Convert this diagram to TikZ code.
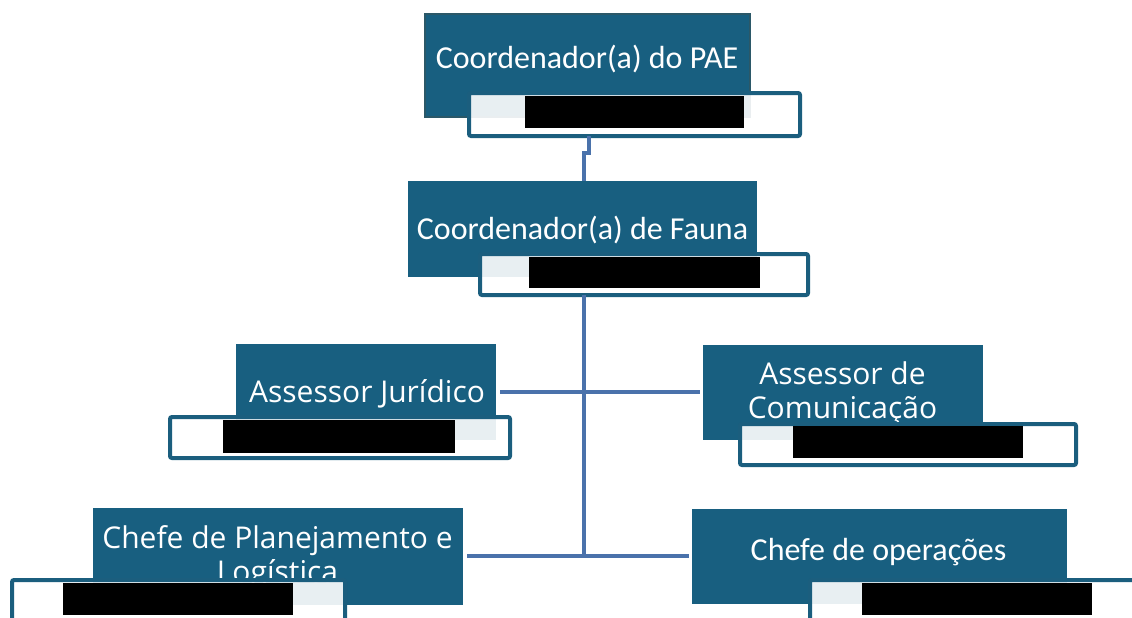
\documentclass[tikz,border=0pt]{standalone}
\usepackage{fontspec}
\setmainfont{Carlito}
\newfontfamily\aptos{Open Sans}
\definecolor{boxfill}{HTML}{185F80}
\definecolor{boxedge}{HTML}{2B5868}
\definecolor{tagline}{HTML}{1B5E7E}
\definecolor{connc}{HTML}{4A72AB}
\begin{document}
\begin{tikzpicture}[x=1pt,y=-1pt,
  darkbox/.style={rectangle, fill=boxfill, inner sep=0pt, outer sep=0pt},
  tagbox/.style={rectangle, draw=tagline, line width=4pt, fill=white, fill opacity=0.9, draw opacity=1, rounded corners=2pt, inner sep=0pt, outer sep=0pt},
  redact/.style={rectangle, fill=black, inner sep=0pt, outer sep=0pt},
  conn/.style={draw=connc, line width=4pt},
  lblC/.style={text=white, font=\fontsize{32}{34}\selectfont, inner sep=0pt, anchor=base},
  lblA/.style={text=white, font=\aptos\fontsize{30}{34}\selectfont, inner sep=0pt, anchor=base, align=center}]
\useasboundingbox (0,0) rectangle (1132,618);
\clip (0,0) rectangle (1132,618);

\coordinate (j1) at (589,153);
\coordinate (j2) at (584,153);
\coordinate (hubA) at (584,392);
\coordinate (hubB) at (584,556);

% boxes
\node[darkbox, draw=boxedge, line width=1.2pt, minimum width=325pt, minimum height=103pt] (pae) at (587.5,65.5) {};
\node[darkbox, minimum width=349pt, minimum height=96pt] (fauna) at (582.5,229) {};
\node[darkbox, minimum width=260pt, minimum height=96pt] (jur) at (366,392) {};
\node[darkbox, minimum width=280pt, minimum height=95pt] (com) at (843,392.5) {};
\node[darkbox, minimum width=370pt, minimum height=97pt] (plan) at (278,556.5) {};
\node[darkbox, minimum width=375pt, minimum height=95pt] (ops) at (879.5,556.5) {};

% texts
\node[lblC] (paeText) at (587,68) {Coordenador(a) do PAE};
\node[lblC] (faunaText) at (582.5,239) {Coordenador(a) de Fauna};
\node[lblA] (jurText) at (367,402) {Assessor Jurídico};
\node[lblA] (comText) at (842.5,418) {Assessor de\\Comunicação};
\node[lblA] (planText) at (277.5,582) {Chefe de Planejamento e\\Logística};
\node[lblC] (opsText) at (878.5,560) {Chefe de operações};

% name tags
\node[tagbox, minimum width=331pt, minimum height=43pt] (paeTag) at (634.5,114.5) {};
\node[tagbox, minimum width=328pt, minimum height=41pt] (faunaTag) at (644,274.5) {};
\node[tagbox, minimum width=340pt, minimum height=41pt] (jurTag) at (340,437.5) {};
\node[tagbox, minimum width=336pt, minimum height=41pt] (comTag) at (908,444.5) {};
\node[tagbox, minimum width=333pt, minimum height=41pt] (planTag) at (178.5,600.5) {};
\node[tagbox, minimum width=336pt, minimum height=41pt] (opsTag) at (978,600.5) {};

% redactions
\node[redact, minimum width=219pt, minimum height=32pt] (paeRed) at (634.5,112) {};
\node[redact, minimum width=231pt, minimum height=31pt] (faunaRed) at (644.5,272.5) {};
\node[redact, minimum width=232pt, minimum height=33pt] (jurRed) at (339,436.5) {};
\node[redact, minimum width=230pt, minimum height=32pt] (comRed) at (908,442) {};
\node[redact, minimum width=230pt, minimum height=32pt] (planRed) at (178,599) {};
\node[redact, minimum width=230pt, minimum height=32pt] (opsRed) at (977,599) {};

% connectors
\draw[conn] (paeTag.south -| j1) -- (j1) -- (j2) -- (fauna.north -| j2);
\draw[conn] (faunaTag.south -| hubA) -- (hubB);
\draw[conn] ([xshift=4pt]jur.east |- hubA) -- (hubA) -- ([xshift=-3pt]com.west |- hubA);
\draw[conn] ([xshift=4pt]plan.east |- hubB) -- (hubB) -- ([xshift=-3pt]ops.west |- hubB);
\end{tikzpicture}
\end{document}
